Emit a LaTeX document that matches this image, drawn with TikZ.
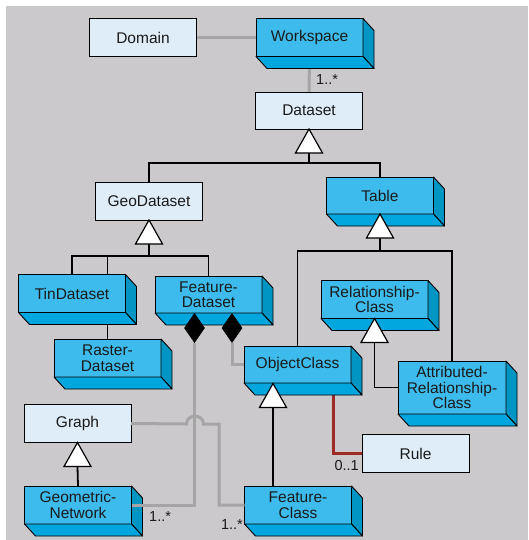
\documentclass[tikz,border=0pt]{standalone}
\usepackage{fontspec}
\setmainfont{Liberation Sans}
\usetikzlibrary{calc,backgrounds}
\definecolor{bggray}{HTML}{CCC9CC}
\definecolor{cyanfront}{HTML}{3DBBEC}
\definecolor{cyanbottom}{HTML}{00A6DD}
\definecolor{cyanside}{HTML}{0095C2}
\definecolor{lightfill}{HTML}{DFEDF8}
\definecolor{assocgray}{HTML}{A5A5A5}
\definecolor{rulered}{HTML}{9E2B25}
\definecolor{txt}{HTML}{1A1A1A}
\tikzset{
 cls/.style={minimum width=107pt, minimum height=38pt, inner sep=0pt, outer sep=0pt, align=center,
   font=\fontsize{15.5}{15.5}\selectfont, text=txt, draw=black, line width=0.9pt},
 lightcls/.style={cls, fill=lightfill},
 cubecls/.style={cls, fill=cyanfront},
 facestyle/.style={draw=black, line width=0.9pt, line join=round},
 inherit/.style={draw=black, line width=1.8pt},
 assoc/.style={draw=assocgray, line width=3pt},
 ruleassoc/.style={draw=rulered, line width=3pt},
 tri/.style={draw=black, fill=white, line width=1.2pt},
 mult/.style={font=\fontsize{14.5}{14.5}\selectfont, text=txt, inner sep=0pt},
 diam/.style={fill=black, draw=black, line width=0.5pt}
}
\newcommand\extrude[1]{%
 \draw[facestyle, fill=cyanside] (#1.north east) -- ($(#1.north east)+(11,12)$) -- ($(#1.south east)+(11,12)$) -- (#1.south east) -- cycle;
 \draw[facestyle, fill=cyanbottom] (#1.south west) -- (#1.south east) -- ($(#1.south east)+(11,12)$) -- ($(#1.south west)+(11,12)$) -- cycle;}
\newcommand\gentri[1]{\draw[tri] (#1) -- ++(13.5,24) -- ++(-27,0) -- cycle;}
\begin{document}
\begin{tikzpicture}[x=1pt,y=-1pt]
\useasboundingbox (0,0) rectangle (528,540);
% classes
\node[lightcls] (Domain) at (143,37.5) {Domain};
\node[cubecls] (Workspace) at (309.5,37.5) {Workspace};
\node[lightcls, minimum height=37pt] (Dataset) at (309,110.5) {Dataset};
\node[lightcls] (GeoDataset) at (149,201) {GeoDataset};
\node[cubecls, minimum height=37pt] (Table) at (380,195.5) {Table};
\node[cubecls] (TinDataset) at (72,293.5) {TinDataset};
\node[cubecls, minimum height=37pt] (FeatureDataset) at (208.5,294.5) {Feature-\\Dataset};
\node[cubecls] (RasterDataset) at (107.5,358) {Raster-\\Dataset};
\node[cubecls] (RelationshipClass) at (374.5,299.5) {Relationship-\\Class};
\node[cubecls, minimum height=37pt] (ObjectClass) at (297.5,364.5) {ObjectClass};
\node[cubecls, minimum height=53pt, minimum width=108pt] (ARC) at (452,387.5) {Attributed-\\Relationship-\\Class};
\node[lightcls] (Graph) at (77.5,423.5) {Graph};
\node[lightcls] (Rule) at (415.5,453.5) {Rule};
\node[cubecls] (GeometricNetwork) at (78,505) {Geometric-\\Network};
\node[cubecls] (FeatureClass) at (298,505) {Feature-\\Class};
\foreach \n in {Workspace,Table,TinDataset,FeatureDataset,RasterDataset,RelationshipClass,ObjectClass,ARC,GeometricNetwork,FeatureClass}{\extrude{\n}}
% helper coordinates
\coordinate (dsbar) at ($(Dataset.south)+(0,34)$);
\coordinate (geobar) at ($(GeoDataset.south)+(0,36)$);
\coordinate (tabbar) at ($(Table.south)+(0,37)$);
\coordinate (octip) at (273,383.5);
\coordinate (d1) at ($(FeatureDataset.south)+(-14,0.5)$);
\coordinate (d2) at ($(FeatureDataset.south)+(23.5,0.5)$);
\begin{pgfonlayer}{background}
\fill[bggray] (6,6) rectangle (528,540);
% associations behind
\draw[assoc] (Domain.east) -- (Workspace.west);
\draw[assoc] (Workspace.south) -- (Dataset.north);
\draw[ruleassoc] (ObjectClass.south -| 333,0) |- (Rule.west);
% generalisation lines
\draw[inherit] ($(Dataset.south)+(0,24)$) -- (dsbar);
\draw[inherit] (GeoDataset.north) |- (dsbar) -| (Table.north);
\draw[inherit] ($(GeoDataset.south)+(0,24)$) -- (geobar);
\draw[inherit] (TinDataset.north) |- (geobar) -| (FeatureDataset.north);
\draw[inherit] (RasterDataset.north) -- (RasterDataset.north |- geobar);
\draw[inherit] ($(Table.south)+(0,24)$) -- (tabbar);
\draw[inherit] (ObjectClass.north) |- (tabbar) -| (ARC.north);
\draw[inherit] ($(RelationshipClass.south)+(0,23)$) |- (ARC.west);
\draw[inherit] ($(octip)+(0,24)$) -- (octip |- FeatureClass.north);
\draw[inherit] ($(Graph.south)+(0,24)$) -- (GeometricNetwork.north);
\end{pgfonlayer}
% associations in front
\draw[assoc] ($(d2)+(0,29)$) |- (ObjectClass.west);
\draw[assoc] ($(d1)+(0,29)$) |- (GeometricNetwork.east);
\draw[assoc] (Graph.east) -- (186.5,424) .. controls (186.5,413.5) and (203.5,413.5) .. (203.5,424) -- (219,424) |- (FeatureClass.west);
% triangles
\gentri{Dataset.south}
\gentri{GeoDataset.south}
\gentri{Table.south}
\gentri{RelationshipClass.south}
\gentri{octip}
\gentri{Graph.south}
% diamonds
\draw[diam] (d1) -- ++(10,14.5) -- ++(-10,14.5) -- ++(-10,-14.5) -- cycle;
\draw[diam] (d2) -- ++(10,14.5) -- ++(-10,14.5) -- ++(-10,-14.5) -- cycle;
% multiplicities
\node[mult, anchor=west] (m1) at (316,80) {1..*};
\node[mult, anchor=east] (m2) at (359,466) {0..1};
\node[mult, anchor=west] (m3) at (149,517) {1..*};
\node[mult, anchor=east] (m4) at (243,525) {1..*};
\end{tikzpicture}
\end{document}
